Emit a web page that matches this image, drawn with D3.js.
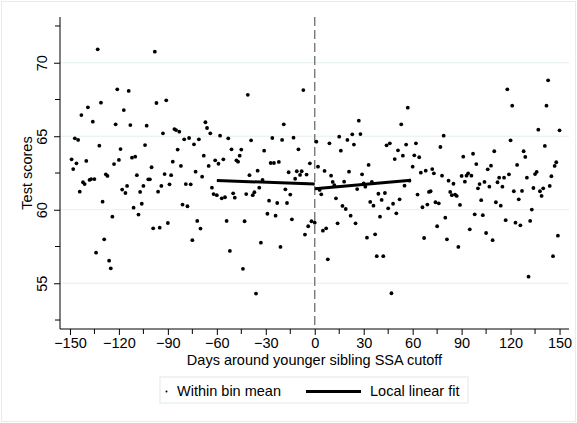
<!DOCTYPE html>
<html>
<head>
<meta charset="utf-8">
<script src="https://cdn.jsdelivr.net/npm/d3@7"></script>
<style>
  body { margin: 0; background: #fff; }
  svg { display: block; font-family: "Liberation Sans", Arial, sans-serif; }
</style>
</head>
<body>
<svg id="chart" width="577" height="423"></svg>
<script>
// bin means (day, score)
const binDays = [
  -149,-148,-147,-146,-145,-144,-143,-142,-141,-140,-139,-138,-137,-136,-135,-134,-133,-132,-131,-130,
  -129,-128,-127,-126,-125,-124,-123,-122,-121,-120,-119,-118,-117,-116,-115,-114,-113,-112,-111,-110,
  -109,-108,-107,-106,-105,-104,-103,-102,-101,-100,-99,-98,-97,-96,-95,-94,-93,-92,-91,-90,
  -89,-88,-87,-86,-85,-84,-83,-82,-81,-80,-79,-78,-77,-76,-75,-74,-73,-72,-71,-70,
  -69,-68,-67,-66,-65,-64,-63,-62,-61,-60,-59,-58,-57,-56,-55,-54,-53,-52,-51,-50,
  -49,-48,-47,-46,-45,-44,-43,-42,-41,-40,-39,-38,-37,-36,-35,-34,-33,-32,-31,-29,
  -28,-27,-26,-25,-24,-23,-22,-21,-20,-19,-18,-17,-16,-15,-14,-13,-12,-11,-10,-9,
  -8,-7,-6,-5,-4,-3,-2,0,
  1,2,3,4,5,6,7,8,9,10,11,12,13,14,15,16,17,18,19,20,
  21,22,23,24,25,26,27,28,29,30,31,32,33,34,35,36,37,38,39,40,
  41,42,43,44,45,46,47,48,49,50,51,52,53,54,55,56,57,58,60,61,
  62,63,64,65,66,67,68,69,70,71,72,73,74,75,76,77,78,79,80,81,
  82,83,84,85,86,87,88,89,90,91,92,93,94,95,96,97,98,99,100,101,
  102,103,104,105,106,107,108,109,110,111,112,113,114,115,116,117,118,119,120,121,
  122,123,124,125,126,127,128,129,130,131,132,133,134,135,136,137,138,139,140,141,
  142,143,144,145,146,147,148,149,150
];
const binScores = [
  63.43,62.77,64.86,63.16,64.75,61.23,66.44,61.87,61.75,63.32,66.97,62.03,62.09,65.99,62.09,57.08,70.91,64.36,67.28,60.55,
  57.99,62.41,62.30,56.54,56.02,59.53,63.11,65.81,68.19,63.39,64.13,61.37,66.78,61.14,61.62,68.08,65.76,63.54,60.14,63.61,
  62.35,59.67,61.21,60.41,61.62,64.40,65.72,62.07,62.07,62.89,58.74,70.75,67.26,61.23,58.78,61.62,65.20,62.43,67.44,59.10,
  61.73,62.35,63.27,65.49,65.42,64.09,65.31,62.98,60.35,64.79,61.75,60.24,64.88,61.73,57.93,64.45,62.59,59.24,64.79,58.72,
  62.25,63.68,65.95,65.56,62.98,65.20,61.50,61.07,63.36,60.99,63.13,65.04,60.78,63.43,60.85,59.24,64.86,57.20,64.11,61.12,
  60.82,63.36,63.27,63.68,64.09,55.98,59.22,61.07,67.82,62.35,64.72,60.99,61.19,54.30,62.66,61.50,57.76,62.03,64.02,59.73,
  60.62,63.18,64.88,63.18,59.60,60.46,63.25,57.47,64.75,65.81,61.39,60.46,62.55,61.03,59.35,64.90,62.11,62.62,64.11,62.37,
  62.62,68.14,58.31,62.39,58.88,63.16,59.22,59.12,
  64.63,62.93,61.35,61.05,58.58,62.64,58.74,56.63,64.52,62.32,61.89,61.67,60.78,59.08,64.97,64.02,60.26,61.91,60.05,64.75,
  62.59,59.60,65.13,64.43,59.08,61.41,66.06,65.15,62.41,61.80,61.57,58.10,63.05,60.53,61.89,60.28,58.33,56.84,61.09,59.53,
  60.67,56.84,61.14,64.38,60.10,64.52,54.32,60.41,63.45,59.76,64.04,60.71,65.81,63.68,61.64,64.43,66.94,61.98,62.93,63.70,
  64.52,61.03,63.57,62.52,60.17,58.08,62.66,60.35,61.21,61.26,62.77,62.48,60.51,58.88,60.44,64.27,62.32,65.04,59.46,57.99,
  61.98,61.21,60.99,61.77,61.03,60.94,57.47,60.33,62.30,63.61,61.91,62.32,62.48,58.67,62.32,63.81,59.69,63.11,61.46,61.75,
  60.65,59.63,61.89,58.42,62.75,61.57,63.00,57.93,63.98,60.51,61.87,62.18,60.28,61.57,62.18,59.29,68.19,62.41,64.72,67.08,
  61.26,59.12,63.05,60.71,58.94,61.28,63.98,63.59,62.18,55.45,59.24,60.01,61.48,62.43,62.57,65.45,61.26,60.94,61.46,64.34,
  67.08,68.80,61.62,62.28,56.84,62.98,63.23,58.24,65.40
];

// local linear fits on each side of the cutoff
const fitLeftDays = [-60, 0];
const fitLeftScores = [61.99, 61.75];
const fitRightDays = [0, 59];
const fitRightScores = [61.43, 62.0];

const xTicks = [-150, -120, -90, -60, -30, 0, 30, 60, 90, 120, 150];
const xMinorTicks = [-135, -105, -75, -45, -15, 15, 45, 75, 105, 135];
const yTicks = [55, 60, 65, 70];
const yMinorTicks = [52.5, 57.5, 62.5, 67.5, 72.5];

const xLabel = "Days around younger sibling SSA cutoff";
const yLabel = "Test scores";
const legendLabels = ["Within bin mean", "Local linear fit"];

const width = 577, height = 423;
const plot = {left: 60, right: 569, top: 17, bottom: 329};

const svg = d3.select("#chart");

const x = d3.scaleLinear([-156.1, 155.8], [plot.left, plot.right]);
const y = d3.scaleLinear([51.89, 73.11], [plot.bottom, plot.top]);

// outer frame of the graph region
svg.append("rect")
    .attr("x", 1.5).attr("y", 1.5)
    .attr("width", width - 3).attr("height", height - 3)
    .attr("fill", "#fff")
    .attr("stroke", "#e4ecee")
    .attr("stroke-width", 1);

// grid lines
svg.append("g")
    .selectAll("line")
    .data(yTicks)
    .join("line")
    .attr("x1", plot.left).attr("x2", plot.right)
    .attr("y1", d => y(d)).attr("y2", d => y(d))
    .attr("stroke", "#e6eff0")
    .attr("stroke-width", 1.2);

// cutoff
svg.append("line")
    .attr("x1", x(0)).attr("x2", x(0))
    .attr("y1", plot.top).attr("y2", plot.bottom)
    .attr("stroke", "#6e6e6e")
    .attr("stroke-width", 1.3)
    .attr("stroke-dasharray", "9,4");

// y axis
const yAxis = svg.append("g")
    .attr("transform", `translate(${plot.left},0)`)
    .call(d3.axisLeft(y).tickValues(yTicks).tickSize(6).tickSizeOuter(0));
yAxis.select(".domain").attr("d", `M0,${plot.top}V${plot.bottom}`).attr("stroke", "#000");
yAxis.selectAll(".tick text")
    .attr("transform", "rotate(-90)")
    .attr("x", 0).attr("y", -13).attr("dy", 0)
    .attr("text-anchor", "middle")
    .attr("font-size", 14.5)
    .attr("fill", "#000");
yAxis.append("g")
    .selectAll("line")
    .data(yMinorTicks)
    .join("line")
    .attr("x1", -5).attr("x2", 0)
    .attr("y1", d => y(d)).attr("y2", d => y(d))
    .attr("stroke", "#000");
yAxis.append("text")
    .attr("transform", `translate(-28,${(plot.top + plot.bottom) / 2}) rotate(-90)`)
    .attr("text-anchor", "middle")
    .attr("font-size", 14.5)
    .attr("fill", "#000")
    .text(yLabel);

// x axis
const xAxis = svg.append("g")
    .attr("transform", `translate(0,${plot.bottom})`)
    .call(d3.axisBottom(x).tickValues(xTicks).tickSize(6).tickPadding(3).tickSizeOuter(0));
xAxis.select(".domain").attr("d", `M${plot.left},0H${plot.right}`).attr("stroke", "#000");
xAxis.selectAll(".tick text")
    .attr("font-size", 14.5)
    .attr("fill", "#000");
xAxis.append("g")
    .selectAll("line")
    .data(xMinorTicks)
    .join("line")
    .attr("x1", d => x(d)).attr("x2", d => x(d))
    .attr("y1", 0).attr("y2", 5)
    .attr("stroke", "#000");
xAxis.append("text")
    .attr("x", (plot.left + plot.right) / 2)
    .attr("y", 36)
    .attr("text-anchor", "middle")
    .attr("font-size", 14.5)
    .attr("fill", "#000")
    .text(xLabel);

// bin means
svg.append("g")
    .selectAll("circle")
    .data(binDays.map((d, i) => [d, binScores[i]]))
    .join("circle")
    .attr("cx", d => x(d[0]))
    .attr("cy", d => y(d[1]))
    .attr("r", 1.9)
    .attr("fill", "#000");

// fit lines
const line = d3.line().x(d => x(d[0])).y(d => y(d[1]));
svg.append("g")
    .selectAll("path")
    .data([
        fitLeftDays.map((d, i) => [d, fitLeftScores[i]]),
        fitRightDays.map((d, i) => [d, fitRightScores[i]])
    ])
    .join("path")
    .attr("d", line)
    .attr("fill", "none")
    .attr("stroke", "#000")
    .attr("stroke-width", 3);

// legend
const legend = svg.append("g").attr("transform", "translate(160,377)");
legend.append("rect")
    .attr("width", 308).attr("height", 26)
    .attr("fill", "#fff")
    .attr("stroke", "#dfe8ea");
legend.append("circle")
    .attr("cx", 6.5).attr("cy", 14.5).attr("r", 1)
    .attr("fill", "#000");
legend.append("text")
    .attr("x", 17).attr("y", 19)
    .attr("font-size", 14.5)
    .text(legendLabels[0]);
legend.append("line")
    .attr("x1", 146).attr("x2", 201)
    .attr("y1", 14.5).attr("y2", 14.5)
    .attr("stroke", "#000")
    .attr("stroke-width", 3);
legend.append("text")
    .attr("x", 210).attr("y", 19)
    .attr("font-size", 14.5)
    .text(legendLabels[1]);
</script>
</body>
</html>
